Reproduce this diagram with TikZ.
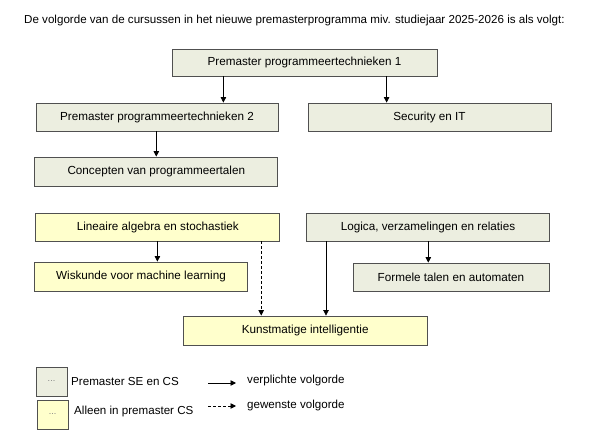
\documentclass[tikz,border=0pt]{standalone}
\usepackage{fontspec}
\setmainfont{Liberation Sans}
\usetikzlibrary{arrows.meta}
\definecolor{boxgreen}{HTML}{ECEEE0}
\definecolor{boxyellow}{HTML}{FFFFCC}
\definecolor{edgegray}{HTML}{505050}
\tikzset{
  course/.style={draw=edgegray, line width=0.8pt, inner sep=0pt, font=\fontsize{11.7}{13}\selectfont},
  se/.style={course, fill=boxgreen},
  cs/.style={course, fill=boxyellow},
  legbox/.style={minimum width=31pt, minimum height=29pt, text=gray, font=\fontsize{9}{10}\selectfont},
  arr/.style={line width=0.7pt, -{Triangle[length=5.5pt,width=5.5pt]}},
  darr/.style={arr, dash pattern=on 3pt off 2pt},
  legtext/.style={anchor=west, inner sep=0pt, font=\fontsize{11.6}{13}\selectfont}
}
\begin{document}
\begin{tikzpicture}[x=1pt,y=-1pt]
\useasboundingbox (0,0) rectangle (605,443);
\node[anchor=west, inner sep=0pt, font=\fontsize{11.6}{13}\selectfont] (title) at (24,20.5)
  {De volgorde van de cursussen in het nieuwe premasterprogramma miv. studiejaar 2025-2026 is als volgt:};

\node[se, minimum width=265pt, minimum height=27pt] (p1) at (304.5,62.5) {Premaster programmeertechnieken 1};
\node[se, minimum width=242pt, minimum height=28pt] (p2) at (157,117) {Premaster programmeertechnieken 2};
\node[se, minimum width=243pt, minimum height=28pt] (sec) at (429.5,117) {Security en IT};
\node[se, minimum width=243pt, minimum height=29pt] (con) at (156.3,171.5) {Concepten van programmeertalen};
\node[cs, minimum width=244pt, minimum height=28pt] (lin) at (157.8,227) {Lineaire algebra en stochastiek};
\node[se, minimum width=243pt, minimum height=28pt] (log) at (428,227) {Logica, verzamelingen en relaties};
\node[cs, minimum width=213pt, minimum height=29pt] (wis) at (141,276.5) {Wiskunde voor machine learning};
\node[se, minimum width=196pt, minimum height=28pt] (for) at (450.9,277) {Formele talen en automaten};
\node[cs, minimum width=244pt, minimum height=29pt] (ki) at (305.2,330.5) {Kunstmatige intelligentie};

\coordinate (xa) at (223.4,0);
\coordinate (xb) at (386.6,0);
\coordinate (xc) at (156.3,0);
\coordinate (xd) at (157.4,0);
\coordinate (xe) at (261.2,0);
\coordinate (xf) at (326,0);
\coordinate (xg) at (428.3,0);

\draw[arr] (p1.south -| xa) -- (p2.north -| xa);
\draw[arr] (p1.south -| xb) -- (sec.north -| xb);
\draw[arr] (p2.south -| xc) -- (con.north -| xc);
\draw[arr] (lin.south -| xd) -- (wis.north -| xd);
\draw[darr] (lin.south -| xe) -- (ki.north -| xe);
\draw[arr] (log.south -| xf) -- (ki.north -| xf);
\draw[arr] (log.south -| xg) -- (for.north -| xg);

% legend
\node[se, legbox] (lg1) at (51.5,381.5) {...};
\node[cs, legbox] (lg2) at (52.5,414.5) {...};
\node[legtext] (lt1) at (71,382) {Premaster SE en CS};
\node[legtext] (lt2) at (74,412) {Alleen in premaster CS};
\coordinate (la1) at (208,383);
\coordinate (lb1) at (236,383);
\coordinate (la2) at (208,406);
\coordinate (lb2) at (236,406);
\draw[arr] (la1) -- (lb1);
\draw[darr] (la2) -- (lb2);
\node[legtext] (lt3) at (247,381) {verplichte volgorde};
\node[legtext] (lt4) at (247,406) {gewenste volgorde};
\end{tikzpicture}
\end{document}
